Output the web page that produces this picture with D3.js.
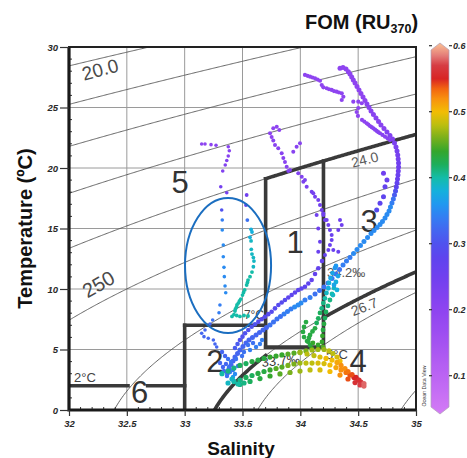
<!DOCTYPE html>
<html><head><meta charset="utf-8">
<script src="https://cdn.jsdelivr.net/npm/d3@7"></script>
<style>
body{margin:0;background:#fff}
svg{display:block}
text{font-family:"Liberation Sans",Arial,Helvetica,sans-serif}
</style>
</head><body>
<svg id="chart" width="467" height="458"></svg>
<script>
// ---------------- DATA ----------------
const salTicks = [32, 32.5, 33, 33.5, 34, 34.5, 35];
const salTickLabels = ["32", "32.5", "33", "33.5", "34", "34.5", "35"];
const tempTicks = [0, 5, 10, 15, 20, 25, 30];
const tempTickLabels = ["0", "5", "10", "15", "20", "25", "30"];
const fomTicks = [0.1, 0.2, 0.3, 0.4, 0.5, 0.6];
const fomTickLabels = ["0.1", "0.2", "0.3", "0.4", "0.5", "0.6"];
const sigmaLevels = [20, 21, 22, 23, 24, 25, 26, 26.7, 27, 28];

// colour map (value, colour)
const fomStops  = [0.04, 0.10, 0.15, 0.20, 0.25, 0.28, 0.30, 0.32, 0.34, 0.36, 0.38, 0.40, 0.42, 0.44, 0.46, 0.48, 0.50, 0.52, 0.535, 0.55, 0.57, 0.585, 0.60];
const fomColors = ["#d47cf5","#bb64f3","#a452f1","#8e44f0","#7040ef","#5e44ee","#5052ee","#4466f0","#347ef2","#2098f0","#14b0dc","#14bca8","#1cae5c","#34a62c","#78b01c","#bcbe10","#f2bc04","#f8900e","#f26410","#d82424","#d63c44","#e47c78","#f6b48e"];

// water-mass boundaries
const thickIso = [ {sigma:24, s0:33.7, s1:35}, {sigma:26.7, s0:33.1, s1:33.7}, {sigma:26.7, s0:34.2, s1:35} ];
const vBounds  = [ {s:33.7, t0:5.2, topSigma:24}, {s:34.2, t0:5.2, topSigma:24}, {s:33, t0:0, t1:7} ];
const hBounds  = [ {t:5.2, s0:33.7, s1:34.2}, {t:7, s0:33, s1:33.7}, {t:2, s0:32, s1:32.51}, {t:2, s0:32.68, s1:33} ];

// observations [salinity, temperature, FOM]
const trackR1 = [[34.040,27.69,.20],[34.062,27.62,.20],[34.084,27.55,.20],[34.105,27.48,.20],[34.127,27.41,.20],[34.149,27.31,.20],[34.170,27.21,.20],[34.185,26.86,.20],[34.199,26.67,.20],[34.228,26.59,.20],[34.248,26.51,.20],[34.271,26.45,.20],[34.291,26.36,.20],[34.314,26.31,.20],[34.334,26.24,.20],[34.358,26.17,.20],[34.372,25.89,.20],[34.358,25.62,.20],[34.458,25.48,.20],[34.501,25.48,.20],[34.531,25.35,.20],[34.501,24.96,.20],[34.487,24.63,.20],[34.498,24.30,.20],[34.533,23.97,.20],[34.553,23.84,.20],[34.574,23.69,.20],[34.588,23.59,.20],[34.602,23.47,.20],[34.617,23.37,.21],[34.631,23.28,.21],[34.646,23.17,.21],[34.660,23.06,.21],[34.674,22.96,.21],[34.689,22.87,.21],[34.710,22.73,.21],[34.732,22.59,.21],[34.754,22.45,.21],[34.775,22.31,.21]];
const trackR2 = [[34.343,28.24,.20],[34.369,28.31,.20],[34.395,28.18,.20],[34.415,27.96,.20],[34.429,27.77,.20],[34.444,27.52,.20],[34.458,27.27,.20],[34.473,27.02,.20],[34.490,26.74,.20],[34.507,26.45,.20],[34.524,26.16,.20],[34.542,25.87,.20],[34.559,25.58,.20],[34.576,25.29,.21],[34.594,25.00,.21],[34.611,24.71,.21],[34.632,24.42,.21],[34.654,24.13,.21],[34.676,23.84,.21],[34.697,23.55,.21],[34.723,23.26,.21],[34.749,22.98,.22],[34.775,22.69,.22],[34.797,22.40,.22],[34.814,22.07,.23],[34.827,21.74,.23],[34.836,21.40,.24],[34.842,21.07,.24],[34.846,20.74,.24],[34.849,20.41,.25],[34.849,20.08,.25],[34.847,19.75,.25],[34.844,19.42,.26],[34.840,19.09,.26],[34.836,18.76,.27],[34.830,18.43,.28],[34.823,18.10,.30],[34.814,17.77,.31],[34.804,17.44,.33],[34.792,17.11,.34],[34.779,16.78,.35],[34.767,16.45,.35],[34.749,16.16,.35],[34.732,15.87,.35],[34.710,15.58,.35],[34.689,15.33,.35],[34.663,15.08,.35],[34.637,14.83,.35],[34.611,14.59,.35],
 [34.719,19.56,.25],[34.749,19.01,.26],[34.732,18.45,.27],[34.719,17.63,.28],[34.689,17.08,.28],[34.660,16.53,.29]];
const trackM = [[33.796,23.41,.20],[33.766,23.28,.20],[33.818,23.14,.20],[33.738,22.87,.20],[33.752,22.56,.20],[33.766,22.27,.21],[33.781,21.90,.21],[33.809,21.63,.21],[33.839,21.21,.21],[33.853,20.83,.21],[33.867,20.50,.21],[33.882,20.11,.21],[33.896,19.75,.22],[33.911,19.83,.22],[33.939,21.35,.21],[33.968,21.76,.21],[33.997,22.04,.21],[33.982,19.56,.22],[34.012,19.28,.22],[34.040,19.01,.23],[34.026,18.87,.23],[34.055,18.45,.23],[34.098,18.04,.24],[34.112,17.91,.24],[34.127,17.63,.24],[34.155,17.36,.24],[34.170,16.94,.25],[34.185,16.53,.25],[34.199,16.25,.25],[34.199,16.12,.25],[34.213,15.70,.25],[34.228,15.70,.25],[34.242,15.29,.25],[34.256,14.88,.26],[34.271,14.46,.26],[34.271,14.05,.26],[34.256,13.64,.26],[34.242,13.22,.26],[34.213,12.81,.27],[34.343,15.70,.25],[34.358,15.29,.25],[34.328,14.88,.25],[34.285,13.22,.26],[34.328,13.08,.26],[34.141,16.12,.25],[34.155,15.00,.25],[34.170,13.91,.26],[34.155,13.08,.26]];
const trackP = [[34.187,12.31,.27],[34.155,11.71,.27],[34.127,11.24,.27],[34.098,10.74,.27],[34.069,10.45,.28],[34.040,10.19,.28],[34.010,10.04,.28],[33.982,9.92,.28],[33.954,9.71,.28],[33.925,9.50,.28],[33.896,9.30,.28],[33.867,9.09,.29],[33.839,8.88,.29],[33.810,8.68,.29],[33.781,8.40,.29],[33.752,8.12,.29],[33.723,7.92,.29],[33.694,7.71,.29],[33.666,7.50,.29],[33.637,7.30,.29],[33.608,7.09,.30],[33.579,6.88,.30],[33.550,6.61,.30],[33.522,6.34,.30],[33.500,6.06,.30],[33.478,5.79,.30],[33.457,5.45,.31],[33.435,5.12,.31]];
const trackL = [[33.147,21.98,.20],[33.176,21.98,.20],[33.228,21.93,.20],[33.271,21.88,.21],[33.377,21.76,.21],[33.386,21.43,.21],[33.377,20.99,.21],[33.364,20.62,.22],[33.351,20.25,.22],[33.329,19.75,.22],[33.312,18.45,.24],[33.364,17.96,.24],[33.320,16.53,.30],[33.325,15.70,.34],[33.325,14.88,.35],[33.334,13.64,.35],[33.334,12.67,.35],[33.340,11.79,.35],[33.343,11.02,.35],[33.349,10.25,.35],[33.355,9.69,.35],[33.305,8.68,.34],[33.297,8.04,.34],[33.242,7.44,.33],[33.219,7.11,.32],[33.176,6.61,.32],[33.147,6.34,.32],[33.167,6.06,.32],[33.204,5.93,.32],[33.248,5.79,.32],[33.262,5.45,.32],[33.277,5.21,.32]];
const trackC = [[33.536,17.77,.25],[33.530,16.94,.27],[33.542,15.70,.33],[33.574,14.93,.38],[33.582,14.71,.38],[33.565,14.27,.38],[33.574,13.97,.39],[33.576,13.28,.39],[33.582,12.89,.39],[33.594,12.60,.39],[33.599,12.31,.39],[33.594,11.84,.39],[33.582,11.40,.40],[33.565,11.02,.40],[33.548,10.74,.40],[33.543,10.54,.40],[33.536,10.33,.40],[33.519,9.92,.40],[33.509,9.71,.40],[33.500,9.50,.40],[33.485,9.17,.40],[33.474,9.01,.40],[33.464,8.84,.40],[33.452,8.68,.40],[33.448,8.51,.40],[33.439,8.35,.40],[33.435,8.18,.40],[33.426,7.89,.40],[33.409,7.73,.40],[33.450,7.81,.40],[33.478,7.73,.40],[33.513,7.81,.40],[33.548,7.77,.40]];
const trackB = [[34.581,14.26,.35],[34.550,13.93,.35],[34.520,13.60,.35],[34.490,13.26,.35],[34.460,12.93,.35],[34.429,12.60,.34],[34.399,12.31,.34],[34.369,11.98,.34],[34.339,11.61,.33],[34.308,11.24,.33],[34.274,10.87,.33],[34.239,10.50,.33],[34.205,10.17,.33],[34.166,9.88,.33],[34.127,9.59,.33],[34.084,9.30,.34],[34.040,9.09,.34],[34.006,8.84,.35],[33.980,8.68,.35],[33.950,8.51,.35],[33.919,8.35,.34],[33.889,8.14,.34],[33.859,7.93,.34],[33.828,7.73,.33],[33.798,7.52,.33],[33.768,7.27,.33],[33.738,7.02,.33],[33.707,6.82,.32],[33.677,6.61,.32],[33.647,6.40,.32],[33.617,6.20,.32],[33.586,5.99,.32],[33.556,5.79,.32],[33.530,5.54,.32],[33.504,5.25,.32],[33.478,4.96,.32],[33.457,4.67,.32],[33.435,4.38,.32],[33.418,4.05,.32],[33.401,3.72,.32],[33.383,3.39,.32],[33.370,3.06,.32]];
const trackBlue = [[33.323,4.79,.32],[33.349,4.46,.32],[33.375,4.21,.33],[33.401,3.97,.33],[33.357,3.80,.32],[33.383,3.55,.33],[33.418,3.31,.34],[33.340,3.22,.32],[33.366,2.81,.33],[33.435,2.98,.35],[33.461,3.64,.33],[33.444,4.21,.33],[33.496,4.46,.33],[33.306,3.88,.32],[33.331,3.55,.32],[33.392,3.14,.34],[33.418,2.73,.36],[33.548,5.37,.33],[33.591,5.54,.33],[33.617,5.21,.34],[33.513,4.79,.33],[33.565,4.96,.34],[33.651,5.45,.34],[33.669,5.79,.34]];
const trackG1 = [[34.308,11.90,.36],[34.300,11.74,.36],[34.278,11.32,.37],[34.261,10.91,.37],[34.248,10.50,.38],[34.242,10.06,.38],[34.226,9.67,.39],[34.213,9.23,.40],[34.199,8.84,.41],[34.185,8.40,.41],[34.170,8.02,.42],[34.155,7.58,.42],[34.141,7.19,.42],[34.127,6.75,.43],[34.105,6.49,.43],[34.084,6.20,.43],[34.075,5.95,.43],[34.069,5.64,.43],[34.084,5.37,.43],[34.098,5.10,.44],
 [34.326,11.07,.37],[34.308,10.58,.38],[34.291,10.08,.39],[34.274,9.59,.40],[34.256,9.09,.41],[34.239,8.60,.41],[34.222,8.10,.42],[34.213,7.60,.42],[34.205,7.11,.43],[34.196,6.61,.43],[34.191,6.12,.44],[34.187,5.62,.44],[34.196,5.21,.45],
 [34.291,10.33,.37],[34.317,9.92,.38],[34.282,9.50,.39],
 [34.049,7.27,.43],[34.032,6.86,.43],[34.023,6.45,.43],[34.032,6.03,.43],[34.058,5.70,.43],[34.109,5.54,.44],[34.153,5.37,.44]];
const trackG2 = [[33.323,3.00,.40],[33.375,3.22,.41],[33.426,3.47,.41],[33.478,3.68,.42],[33.530,3.84,.42],[33.582,4.01,.43],[33.634,4.13,.43],[33.686,4.26,.43],[33.738,4.38,.44],[33.790,4.46,.44],[33.841,4.55,.44],[33.893,4.63,.45],[33.945,4.71,.45],[33.997,4.79,.46],[34.049,4.88,.46],[34.101,4.96,.47],[34.153,5.00,.47],[34.205,5.00,.47],[34.248,4.88,.48],[34.282,4.67,.48],[34.317,4.38,.49],[34.343,4.05,.50]];
const trackG3 = [[33.375,2.23,.39],[33.426,2.36,.40],[33.478,2.48,.41],[33.530,2.69,.42],[33.582,2.85,.42],[33.634,3.02,.43],[33.686,3.18,.43],[33.738,3.31,.44],[33.790,3.43,.45],[33.841,3.55,.45],[33.893,3.68,.46],[33.945,3.80,.46],[33.997,3.88,.47],[34.049,3.88,.48],[34.101,3.88,.48],[34.153,3.88,.49],[34.205,3.84,.49],[34.256,3.72,.50],[34.308,3.51,.51],[34.352,3.31,.52],[34.395,3.10,.53],[34.429,2.89,.54],[34.464,2.69,.55],[34.499,2.48,.56],[34.524,2.31,.57],[34.550,2.19,.58],
 [33.409,2.56,.39],[33.461,2.15,.40],[33.513,2.23,.41]];
const trackG4 = [[33.997,4.75,.47],[34.058,4.63,.48],[34.118,4.50,.48],[34.170,4.38,.49],[34.222,4.26,.50],[34.274,4.13,.50],[34.317,3.93,.51],[34.352,3.68,.52],[34.386,3.43,.52],[34.412,3.18,.53],[34.447,2.93,.54],[34.481,2.69,.55],[34.507,2.48,.56]];
const trackG5 = [[33.478,2.11,.41],[33.565,2.36,.42],[33.651,2.60,.43],[33.738,2.81,.44],[33.824,2.98,.45],[33.911,3.10,.46],[33.997,3.22,.47],[34.084,3.31,.48],[34.170,3.31,.49],[34.256,3.18,.50],[34.343,2.89,.52],[34.412,2.56,.54],[34.473,2.27,.56],[34.516,2.07,.57],[34.550,1.98,.58]];

// ---------------- DRAW ----------------
const svg = d3.select("#chart");
const x = d3.scaleLinear().domain([32, 35]).range([69, 416]);
const y = d3.scaleLinear().domain([0, 30]).range([410, 47]);
const color = d3.scaleLinear().domain(fomStops).range(fomColors).interpolate(d3.interpolateRgb).clamp(true);

function sigmaT(S, T) {
  const rw = 999.842594 + 6.793952e-2*T - 9.095290e-3*T*T + 1.001685e-4*T**3 - 1.120083e-6*T**4 + 6.536332e-9*T**5;
  const A = 8.24493e-1 - 4.0899e-3*T + 7.6438e-5*T*T - 8.2467e-7*T**3 + 5.3875e-9*T**4;
  const B = -5.72466e-3 + 1.0227e-4*T - 1.6546e-6*T*T;
  return rw + A*S + B*Math.pow(S, 1.5) + 4.8314e-4*S*S - 1000;
}
function tempAt(S, sig) {
  let lo = -4, hi = 40;
  for (let i = 0; i < 60; i++) { const m = (lo+hi)/2; if (sigmaT(S, m) > sig) lo = m; else hi = m; }
  return (lo+hi)/2;
}
const line = d3.line().x(d => x(d[0])).y(d => y(d[1]));
function isoPts(sig, s0, s1) {
  return d3.range(s0, s1 + 1e-9, 0.01).map(s => [s, tempAt(s, sig)]);
}

const defs = svg.append("defs");
defs.append("clipPath").attr("id", "plotclip").append("rect")
  .attr("x", x(32)).attr("y", y(30)).attr("width", x(35)-x(32)).attr("height", y(0)-y(30));

const plot = svg.append("g").attr("clip-path", "url(#plotclip)");

// grid
plot.append("g").selectAll("line").data(salTicks.slice(1, -1)).join("line")
  .attr("x1", d => x(d)).attr("x2", d => x(d)).attr("y1", y(0)).attr("y2", y(30))
  .attr("stroke", "#9a9a9a").attr("stroke-width", 1);
plot.append("g").selectAll("line").data(tempTicks.slice(1, -1)).join("line")
  .attr("y1", d => y(d)).attr("y2", d => y(d)).attr("x1", x(32)).attr("x2", x(35))
  .attr("stroke", "#9a9a9a").attr("stroke-width", 1);

// isopycnals
plot.append("g").selectAll("path").data(sigmaLevels).join("path")
  .attr("d", d => line(isoPts(d, 32, 35)))
  .attr("fill", "none").attr("stroke", "#555").attr("stroke-width", 0.9);

// thick boundaries
const bnd = plot.append("g").attr("stroke", "#3a3a3a").attr("stroke-width", 3.6).attr("fill", "none").attr("stroke-linecap", "square");
bnd.selectAll("path.iso").data(thickIso).join("path").attr("class", "iso")
  .attr("d", d => line(isoPts(d.sigma, d.s0, d.s1)));
bnd.selectAll("line.v").data(vBounds).join("line").attr("class", "v")
  .attr("x1", d => x(d.s)).attr("x2", d => x(d.s))
  .attr("y1", d => y(d.t0)).attr("y2", d => y(d.t1 !== undefined ? d.t1 : tempAt(d.s, d.topSigma)));
bnd.selectAll("line.h").data(hBounds).join("line").attr("class", "h")
  .attr("x1", d => x(d.s0)).attr("x2", d => x(d.s1)).attr("y1", d => y(d.t)).attr("y2", d => y(d.t));

// annotations
const ann = plot.append("g");
function label(txt, s, t, opts) {
  const o = Object.assign({size: 14, rot: 0, anchor: "middle", fill: "#444", family: null, weight: "normal"}, opts || {});
  const el = ann.append("text").attr("transform", `translate(${x(s)},${y(t)}) rotate(${o.rot})`)
    .attr("text-anchor", o.anchor).attr("font-size", o.size).attr("fill", o.fill).attr("font-weight", o.weight).text(txt);
  if (o.family) el.style("font-family", o.family);
  return el;
}
const narrow = '"Liberation Sans Narrow","Arial Narrow","Liberation Sans",Arial,sans-serif';
label("20.0", 32.285, 27.6, {size: 19, rot: -15, fill: "#4a4a4a"});
label("250", 32.285, 9.9, {size: 20, rot: -30, fill: "#4a4a4a"});
label("24.0", 34.568, 20.3, {size: 14, rot: -14, fill: "#5a5a5a"});
label("26.7", 34.568, 8.15, {size: 14, rot: -21, fill: "#555"});
label("34.2\u2030", 34.231, 10.99, {size: 13, anchor: "start", fill: "#555"});
label("33.7\u2030", 33.669, 3.55, {size: 13, rot: -6, anchor: "start", fill: "#333"});
label("7\u00b0C", 33.599, 7.55, {size: 12, fill: "#444"});
label("5\u00b0C", 34.317, 4.25, {size: 13, fill: "#444"});
label("2\u00b0C", 32.138, 2.31, {size: 13, fill: "#444"});
[["5", 32.960, 17.93], ["1", 33.954, 12.98], ["3", 34.594, 14.71], ["2", 33.262, 3.14], ["4", 34.499, 3.14], ["6", 32.610, 0.58]]
  .forEach(d => label(d[0], d[1], d[2], {size: 31, fill: "#333", family: narrow}));

// observations
const tracks = [trackR1, trackR2, trackM, trackP, trackL, trackC, trackB, trackBlue, trackG1, trackG5, trackG3, trackG2, trackG4];
const radius = [2.1, 2.5, 2.0, 2.3, 1.8, 1.9, 2.5, 2.2, 2.4, 2.6, 2.6, 2.6, 2.6];
tracks.forEach((tr, i) => {
  plot.append("g").selectAll("circle").data(tr).join("circle")
    .attr("cx", d => x(d[0])).attr("cy", d => y(d[1])).attr("r", radius[i])
    .attr("fill", d => color(d[2]));
});

// ellipse
plot.append("ellipse")
  .attr("cx", x(33.375)).attr("cy", y(11.94))
  .attr("rx", x(33.375 + 0.372) - x(33.375)).attr("ry", y(11.94) - y(11.94 + 5.58))
  .attr("fill", "none").attr("stroke", "#1b6ec0").attr("stroke-width", 2);

// minor ticks inside frame
const minorT = d3.range(1, 30).filter(d => d % 5 !== 0);
svg.append("g").selectAll("line").data(minorT).join("line")
  .attr("x1", x(32)).attr("x2", x(32) + 3).attr("y1", d => y(d)).attr("y2", d => y(d))
  .attr("stroke", "#333").attr("stroke-width", 1);
const minorS = d3.range(1, 30).filter(d => d % 5 !== 0).map(d => 32 + d / 10);
svg.append("g").selectAll("line").data(minorS).join("line")
  .attr("x1", d => x(d)).attr("x2", d => x(d)).attr("y1", y(0)).attr("y2", y(0) - 3)
  .attr("stroke", "#333").attr("stroke-width", 1);

// frame
svg.append("rect").attr("x", x(32)).attr("y", y(30)).attr("width", x(35)-x(32)).attr("height", y(0)-y(30))
  .attr("fill", "none").attr("stroke", "#222").attr("stroke-width", 2);
svg.append("path").attr("d", `M${x(32)},${y(30)}V${y(0)}H${x(35)}`)
  .attr("fill", "none").attr("stroke", "#1a1a1a").attr("stroke-width", 3.2);

// axes
const yAxis = d3.axisLeft(y).tickValues(tempTicks).tickFormat((d, i) => tempTickLabels[i]).tickSize(9).tickPadding(2);
const xAxis = d3.axisBottom(x).tickValues(salTicks).tickFormat((d, i) => salTickLabels[i]).tickSize(6).tickPadding(4);
const gy = svg.append("g").attr("transform", `translate(${x(32)},0)`).call(yAxis);
const gx = svg.append("g").attr("transform", `translate(0,${y(0)})`).call(xAxis);
[gy, gx].forEach(g => {
  g.select(".domain").remove();
  g.selectAll(".tick line").attr("stroke", "#333").attr("stroke-width", 1.2);
  g.selectAll(".tick text").attr("fill", "#2a2a2a").attr("font-size", 9.5)
    .attr("font-weight", "bold").attr("font-style", "italic")
    .style("font-family", '"Liberation Sans",Arial,sans-serif');
});

// axis titles
svg.append("text").attr("transform", `translate(31.5,${(y(0)+y(30))/2 + 0}) rotate(-90)`)
  .attr("text-anchor", "middle").attr("font-size", 20).attr("font-weight", "bold").attr("fill", "#111")
  .text("Temperature (\u00baC)");
svg.append("text").attr("x", 241).attr("y", 455)
  .attr("text-anchor", "middle").attr("font-size", 19).attr("font-weight", "bold").attr("fill", "#111")
  .text("Salinity");

// title
const title = svg.append("text").attr("x", 305).attr("y", 29).attr("font-size", 20).attr("font-weight", "bold").attr("fill", "#111");
title.append("tspan").text("FOM (RU");
title.append("tspan").attr("font-size", 12.5).attr("dy", 4).text("370");
title.append("tspan").attr("dy", -4).text(")");

// colour bar
const cy = d3.scaleLinear().domain([0, 0.6]).range([441.7, 45.7]);
const cbL = 431, cbR = 449, cbTop = 43, cbBot = 414, cap = 7;
const grad = defs.append("linearGradient").attr("id", "cbgrad")
  .attr("gradientUnits", "userSpaceOnUse").attr("x1", 0).attr("x2", 0).attr("y1", cbBot).attr("y2", cbTop);
const gvals = d3.range(0.030, 0.6101, 0.005);
grad.selectAll("stop").data(gvals).join("stop")
  .attr("offset", v => Math.max(0, Math.min(1, (cbBot - cy(v)) / (cbBot - cbTop))))
  .attr("stop-color", v => color(v));
const cbPath = `M${cbL},${cbTop+cap} L${(cbL+cbR)/2},${cbTop} L${cbR},${cbTop+cap} L${cbR},${cbBot-cap} L${(cbL+cbR)/2},${cbBot} L${cbL},${cbBot-cap} Z`;
svg.append("path").attr("d", cbPath).attr("fill", "url(#cbgrad)").attr("stroke", "#b0a0b8").attr("stroke-width", 0.7);
const cbt = svg.append("g");
cbt.selectAll("line.l").data(fomTicks).join("line").attr("class", "l")
  .attr("x1", cbL - 2).attr("x2", cbL + 1).attr("y1", d => cy(d)).attr("y2", d => cy(d)).attr("stroke", "#333").attr("stroke-width", 1.2);
cbt.selectAll("line.r").data(fomTicks).join("line").attr("class", "r")
  .attr("x1", cbR).attr("x2", cbR + 3).attr("y1", d => cy(d)).attr("y2", d => cy(d)).attr("stroke", "#333").attr("stroke-width", 1.2);
cbt.selectAll("text").data(fomTicks).join("text")
  .attr("x", cbR + 4).attr("y", d => cy(d)).attr("dy", "0.35em")
  .attr("font-size", 9).attr("font-weight", "bold").attr("font-style", "italic").attr("fill", "#2a2a2a")
  .text((d, i) => fomTickLabels[i]);

// ODV credit
svg.append("text").attr("transform", `translate(426,386) rotate(-90)`)
  .attr("text-anchor", "middle").attr("font-size", 5.3).attr("fill", "#333").text("Ocean Data View");
</script>
</body></html>
